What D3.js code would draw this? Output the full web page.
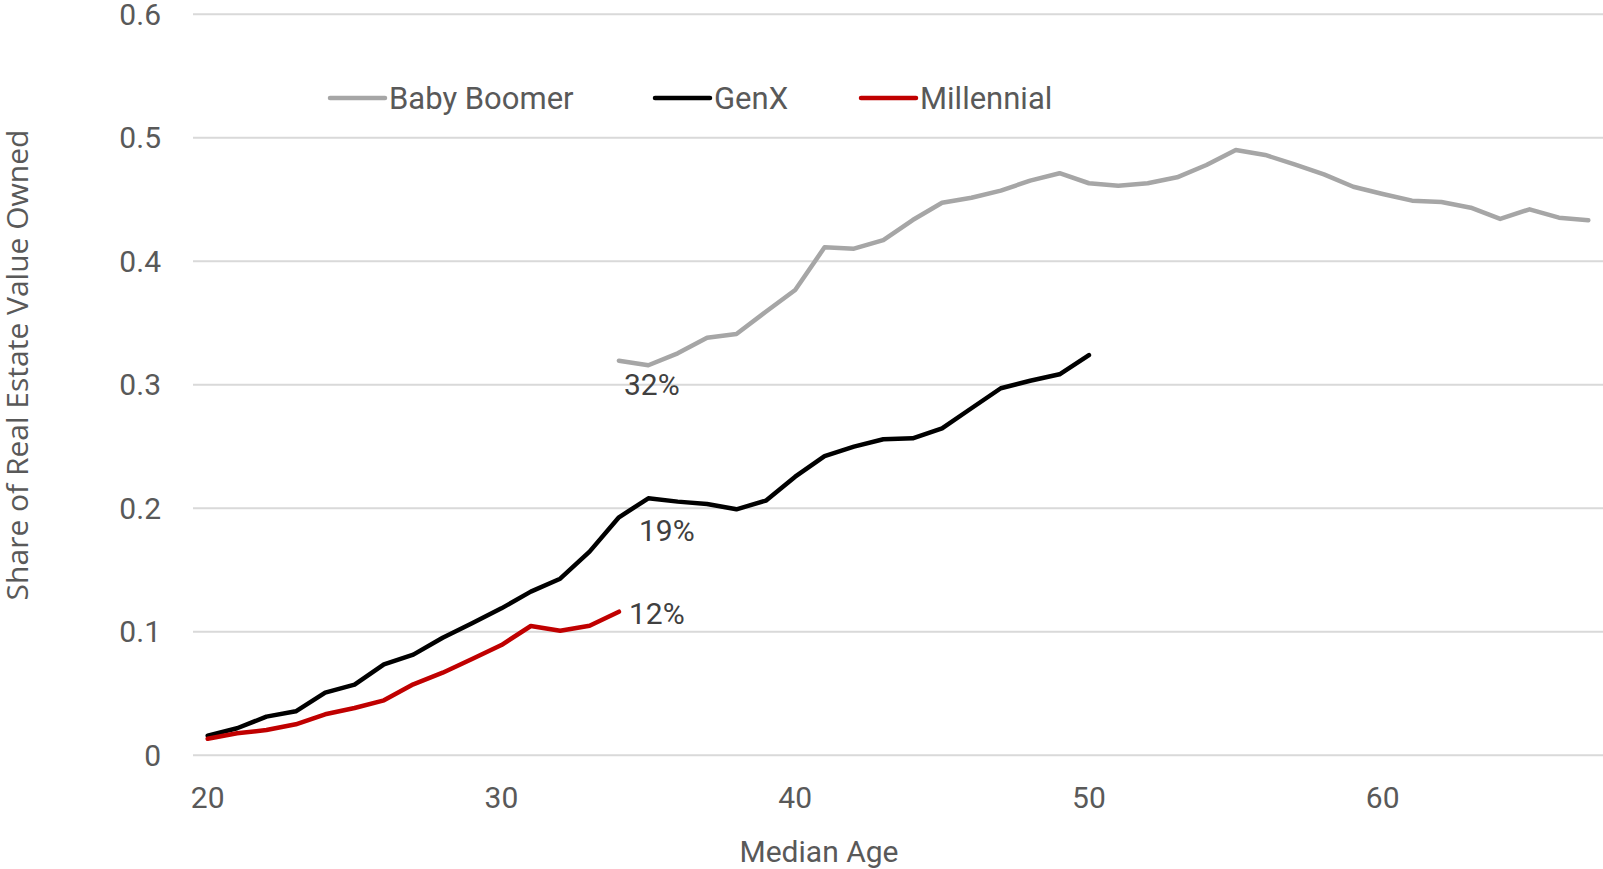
<!DOCTYPE html>
<meta charset="utf-8">
<html>
<head>
  <title>Share of Real Estate Value Owned</title>
</head>
<style>
body {
  margin: 0;
  background: #fff;
}
.grid line {
  stroke: #d9d9d9;
  stroke-width: 2;
}
.tick-label {
  font-family: Roboto, sans-serif;
  font-size: 30px;
  fill: #595959;
}
.series {
  fill: none;
  stroke-width: 4.5;
  stroke-linejoin: round;
  stroke-linecap: round;
}
.legend-text {
  font-family: Roboto, sans-serif;
  font-size: 31px;
  fill: #595959;
}
.end-label {
  font-family: Roboto, sans-serif;
  font-size: 30px;
  fill: #404040;
}
</style>
<body>
<svg id="chart" width="1603" height="869"></svg>

<script src="https://d3js.org/d3.v7.min.js"></script>
<script>

// ages covered by each generation
var boomerAges = d3.range(34, 68);
var genxAges = d3.range(20, 51);
var millAges = d3.range(20, 35);

// share of real estate value owned
var boomerValues = [0.3195, 0.3158, 0.3255, 0.3381, 0.3411, 0.3592, 0.3768, 0.4113, 0.4102, 0.4172,
  0.4334, 0.4474, 0.4515, 0.4572, 0.4653, 0.4713, 0.4632, 0.4612, 0.4632, 0.4680,
  0.4780, 0.4901, 0.4861, 0.4785, 0.4704, 0.4604, 0.4545, 0.4491, 0.4480, 0.4434,
  0.4343, 0.4421, 0.4353, 0.4332];
var genxValues = [0.0159, 0.0219, 0.0313, 0.0356, 0.0507, 0.0572, 0.0737, 0.0815, 0.0952, 0.1069,
  0.1190, 0.1325, 0.1430, 0.1649, 0.1927, 0.2081, 0.2054, 0.2035, 0.1992, 0.2062,
  0.2256, 0.2423, 0.2499, 0.2559, 0.2567, 0.2648, 0.2810, 0.2972, 0.3033, 0.3085,
  0.3241];
var millValues = [0.0134, 0.0178, 0.0205, 0.0251, 0.0332, 0.0383, 0.0445, 0.0575, 0.0669, 0.0780,
  0.0893, 0.1047, 0.1009, 0.1049, 0.1163];

var seriesNames = ["Baby Boomer", "GenX", "Millennial"];
var seriesColors = ["#a6a6a6", "#000000", "#c00000"];

var xTicks = [20, 30, 40, 50, 60];
var yTicks = [0, 0.1, 0.2, 0.3, 0.4, 0.5, 0.6];

// compare everyone at age 34
var labelAge = 34;

var series = [
  {name: seriesNames[0], color: seriesColors[0], ages: boomerAges, values: boomerValues, dx: 5, dy: 34},
  {name: seriesNames[1], color: seriesColors[1], ages: genxAges, values: genxValues, dx: 20, dy: 24},
  {name: seriesNames[2], color: seriesColors[2], ages: millAges, values: millValues, dx: 10, dy: 12}
];

var svg = d3.select("#chart");

// plot area
var plotLeft = 193, plotRight = 1603, plotTop = 14.3, plotBottom = 755.3;

var x = d3.scaleLinear()
  .domain([19.5, 67.5])
  .range([plotLeft, plotRight]);

var y = d3.scaleLinear()
  .domain([0, 0.6])
  .range([plotBottom, plotTop]);

// gridlines
svg.append("g")
  .attr("class", "grid")
  .selectAll("line")
  .data(yTicks)
  .enter()
  .append("line")
    .attr("x1", plotLeft)
    .attr("x2", plotRight)
    .attr("y1", function(d) { return y(d); })
    .attr("y2", function(d) { return y(d); });

// y tick labels
svg.append("g")
  .selectAll("text")
  .data(yTicks)
  .enter()
  .append("text")
    .attr("class", "tick-label")
    .attr("x", 161)
    .attr("y", function(d) { return y(d); })
    .attr("dy", "0.35em")
    .style("text-anchor", "end")
    .text(function(d) { return d === 0 ? "0" : d3.format(".1f")(d); });

// x tick labels
svg.append("g")
  .selectAll("text")
  .data(xTicks)
  .enter()
  .append("text")
    .attr("class", "tick-label")
    .attr("x", function(d) { return x(d); })
    .attr("y", 808)
    .style("text-anchor", "middle")
    .text(function(d) { return d; });

// axis titles
svg.append("text")
  .attr("x", 819)
  .attr("y", 862)
  .style("text-anchor", "middle")
  .style("font-family", "Roboto, sans-serif")
  .style("font-size", "30px")
  .style("fill", "#595959")
  .text("Median Age");

svg.append("text")
  .attr("transform", "translate(28,365) rotate(-90)")
  .style("text-anchor", "middle")
  .style("font-family", "'Open Sans', sans-serif")
  .style("font-size", "30px")
  .style("fill", "#595959")
  .text("Share of Real Estate Value Owned");

// lines
var line = d3.line()
  .x(function(d) { return x(d[0]); })
  .y(function(d) { return y(d[1]); });

series.forEach(function(s) {
  var pts = s.ages.map(function(a, i) { return [a, s.values[i]]; });
  svg.append("path")
    .datum(pts)
    .attr("class", "series")
    .attr("stroke", s.color)
    .attr("d", line);

  // value at age 34
  var v = s.values[s.ages.indexOf(labelAge)];
  svg.append("text")
    .attr("class", "end-label")
    .attr("x", x(labelAge) + s.dx)
    .attr("y", y(v) + s.dy)
    .text(d3.format(".0%")(v));
});

// legend
var legendX = [330, 655, 861];
var legend = svg.append("g")
  .selectAll("g")
  .data(series)
  .enter()
  .append("g")
    .attr("transform", function(d, i) { return "translate(" + legendX[i] + ",98)"; });

legend.append("line")
  .attr("x1", 0)
  .attr("x2", 55)
  .attr("stroke", function(d) { return d.color; })
  .attr("stroke-width", 4.5)
  .attr("stroke-linecap", "round");

legend.append("text")
  .attr("class", "legend-text")
  .attr("x", 59)
  .attr("dy", "0.35em")
  .text(function(d) { return d.name; });

</script>
</body>
</html>
